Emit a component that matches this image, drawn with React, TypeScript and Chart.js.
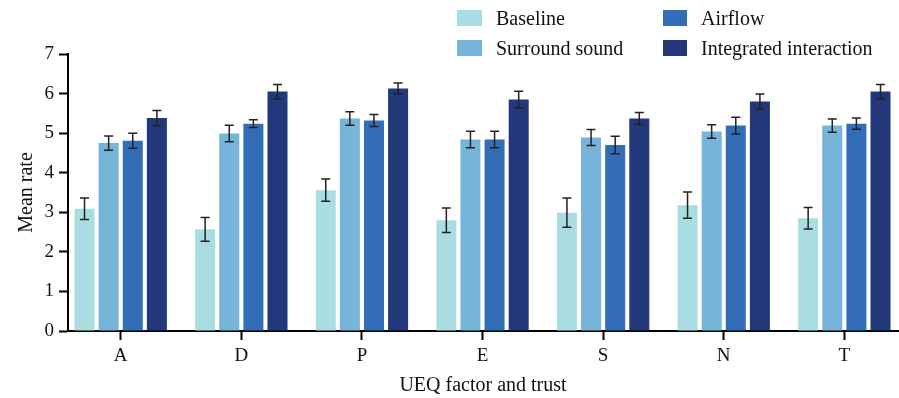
import React, { useEffect, useRef } from "react";
import { Chart, registerables } from "chart.js";

Chart.register(...registerables);

// ---- data ----
const categories = ["A", "D", "P", "E", "S", "N", "T"];
const seriesNames = ["Baseline", "Surround sound", "Airflow", "Integrated interaction"];
const seriesColors = ["#a9dde1", "#76b4da", "#336db6", "#22387a"];

const baselineMeans = [3.09, 2.57, 3.56, 2.8, 2.99, 3.18, 2.85];
const baselineErrors = [0.27, 0.3, 0.28, 0.31, 0.37, 0.33, 0.27];
const surroundMeans = [4.75, 4.99, 5.37, 4.84, 4.89, 5.04, 5.19];
const surroundErrors = [0.18, 0.21, 0.17, 0.21, 0.2, 0.17, 0.17];
const airflowMeans = [4.81, 5.24, 5.32, 4.84, 4.7, 5.19, 5.24];
const airflowErrors = [0.19, 0.1, 0.15, 0.21, 0.22, 0.21, 0.14];
const integratedMeans = [5.38, 6.05, 6.13, 5.85, 5.37, 5.8, 6.05];
const integratedErrors = [0.19, 0.18, 0.14, 0.21, 0.15, 0.19, 0.18];

const yMin = 0;
const yMax = 7;
const xTitle = "UEQ factor and trust";
const yTitle = "Mean rate";

const seriesMeans = [baselineMeans, surroundMeans, airflowMeans, integratedMeans];
const seriesErrors = [baselineErrors, surroundErrors, airflowErrors, integratedErrors];

const FONT = "'Liberation Serif', 'Times New Roman', Times, serif";

const errorBarPlugin = {
  id: "errorBars",
  afterDatasetsDraw(chart: any) {
    const ctx = chart.ctx;
    const yScale = chart.scales.y;
    ctx.save();
    ctx.strokeStyle = "#222222";
    ctx.lineWidth = 1.5;
    chart.data.datasets.forEach((ds: any, di: number) => {
      const meta = chart.getDatasetMeta(di);
      const errs = seriesErrors[di];
      meta.data.forEach((bar: any, i: number) => {
        const v = seriesMeans[di][i];
        const e = errs[i];
        const x = bar.x;
        const yTop = yScale.getPixelForValue(v + e);
        const yBot = yScale.getPixelForValue(v - e);
        const cap = 4.5;
        ctx.beginPath();
        ctx.moveTo(x, yTop);
        ctx.lineTo(x, yBot);
        ctx.moveTo(x - cap, yTop);
        ctx.lineTo(x + cap, yTop);
        ctx.moveTo(x - cap, yBot);
        ctx.lineTo(x + cap, yBot);
        ctx.stroke();
      });
    });
    ctx.restore();
  },
};

export default function App() {
  const canvasRef = useRef<HTMLCanvasElement | null>(null);

  useEffect(() => {
    if (!canvasRef.current) return;
    Chart.defaults.font.family = FONT;
    Chart.defaults.color = "#111111";
    const chart = new Chart(canvasRef.current, {
      type: "bar",
      data: {
        datasets: seriesNames.map((name, si) => ({
          label: name,
          data: seriesMeans[si].map((v, i) => ({ x: i, y: v })),
          backgroundColor: seriesColors[si],
          borderWidth: 0,
          categoryPercentage: 0.8,
          barPercentage: 0.83,
        })),
      },
      options: {
        animation: false,
        responsive: true,
        maintainAspectRatio: false,
        layout: { padding: { top: 54, right: 1, left: 0, bottom: 0 } },
        plugins: {
          legend: { display: false },
          tooltip: { enabled: false },
        },
        scales: {
          x: {
            type: "linear",
            min: -0.437,
            max: 6.445,
            offset: false,
            afterFit: (scale: any) => {
              scale.height = 67;
            },
            ticks: {
              stepSize: 1,
              includeBounds: false,
              autoSkip: false,
              maxRotation: 0,
              padding: 5,
              color: "#111111",
              font: { size: 19, family: FONT },
              callback: (value: any) => categories[Math.round(Number(value))] ?? "",
            },
            grid: {
              display: true,
              offset: false,
              drawOnChartArea: false,
              drawTicks: true,
              tickLength: 9,
              tickWidth: 2,
              tickColor: "#000000",
            },
            border: { display: true, color: "#000000", width: 2 },
            title: {
              display: true,
              text: xTitle,
              color: "#111111",
              font: { size: 20, family: FONT },
              padding: { top: 0, bottom: 0 },
            },
          },
          y: {
            min: yMin,
            max: yMax,
            afterFit: (scale: any) => {
              scale.width = 68;
            },
            ticks: {
              stepSize: 1,
              padding: 5,
              color: "#111111",
              font: { size: 19, family: FONT },
            },
            grid: {
              display: true,
              drawOnChartArea: false,
              drawTicks: true,
              tickLength: 9,
              tickWidth: 2,
              tickColor: "#000000",
            },
            border: { display: true, color: "#000000", width: 2 },
            title: {
              display: true,
              text: yTitle,
              color: "#111111",
              font: { size: 20, family: FONT },
              padding: { top: 15, bottom: 0 },
            },
          },
        },
      },
      plugins: [errorBarPlugin],
    } as any);
    return () => chart.destroy();
  }, []);

  const legendPos = [
    { left: 457, top: 3, box: 25 },
    { left: 457, top: 33, box: 25 },
    { left: 663, top: 3, box: 24 },
    { left: 663, top: 33, box: 24 },
  ];

  return (
    <div style={{ position: "absolute", left: 0, top: 0, width: 899, height: 398, background: "#ffffff" }}>
      <canvas ref={canvasRef} style={{ display: "block" }} />
      {seriesNames.map((name, i) => (
        <div
          key={name}
          style={{
            position: "absolute",
            left: legendPos[i].left,
            top: legendPos[i].top,
            height: 30,
            display: "flex",
            alignItems: "center",
            fontFamily: FONT,
            fontSize: 20,
            color: "#111111",
            whiteSpace: "nowrap",
          }}
        >
          <span
            style={{
              display: "inline-block",
              width: legendPos[i].box,
              height: 16,
              background: seriesColors[i],
              marginRight: 14,
            }}
          />
          <span>{name}</span>
        </div>
      ))}
    </div>
  );
}
